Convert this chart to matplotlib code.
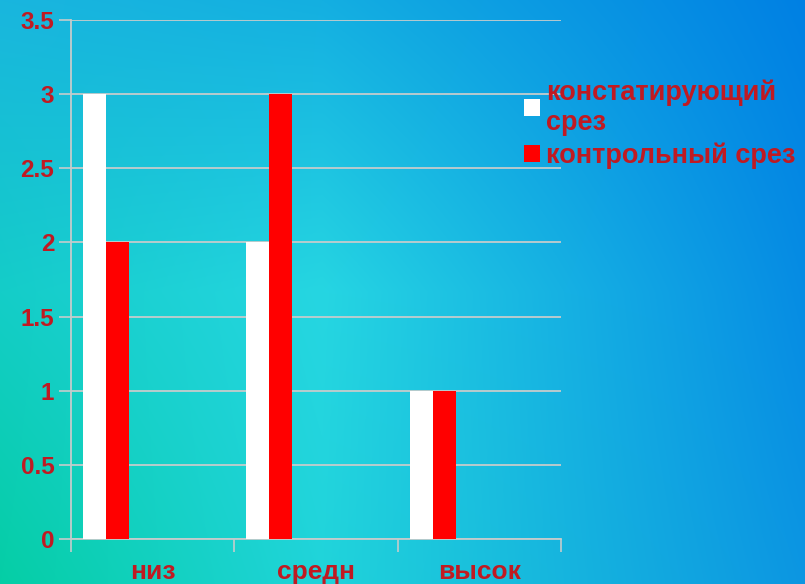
import numpy as np
import matplotlib.pyplot as plt

categories = ['низ', 'средн', 'высок']
series_names = ['констатирующий\nсрез', 'контрольный срез']
konst = [3, 2, 1]
kontr = [2, 3, 1]
yticks = [0, 0.5, 1, 1.5, 2, 2.5, 3, 3.5]

txt_red = '#c01a22'
grid_c = '#c4cccc'

plt.rcParams['font.family'] = ['Liberation Sans', 'DejaVu Sans']

fig = plt.figure(figsize=(8.05, 5.84), dpi=100)

# background gradient
W, H = 805, 584
xs = np.linspace(0, 1, W)
def row(stops):
    pos = [p for p, _ in stops]
    return np.stack([np.interp(xs, pos, [c[i] for _, c in stops]) for i in range(3)], axis=-1)
bottom = row([(0, (5, 206, 165)), (0.4, (32, 212, 218)), (1, (12, 150, 226))])
top = row([(0, (25, 182, 222)), (0.4, (20, 175, 225)), (1, (0, 128, 228))])
mid = row([(0, (20, 205, 200)), (0.4, (38, 214, 226)), (1, (6, 140, 228))])
t = np.linspace(0, 1, H)[:, None, None]   # 0 = top
img = np.where(t < 0.5, top[None] * (1 - 2 * t) + mid[None] * (2 * t),
               mid[None] * (2 - 2 * t) + bottom[None] * (2 * t - 1))
bg = fig.add_axes([0, 0, 1, 1])
bg.imshow(img / 255.0, aspect='auto', extent=[0, 1, 0, 1])
bg.axis('off')

ax = fig.add_axes([71 / W, 45 / H, 490 / W, 519 / H])
ax.patch.set_alpha(0)

x = np.arange(len(categories))
bw = 0.141
ax.bar(x + 0.074, konst, width=bw, align='edge', color='white', zorder=3, label=series_names[0])
ax.bar(x + 0.074 + bw, kontr, width=bw, align='edge', color='red', zorder=3, label=series_names[1])

ax.set_xlim(0, 3)
ax.set_ylim(0, 3.5)
ax.set_yticks(yticks)
ax.set_yticklabels(['0', '0.5', '1', '1.5', '2', '2.5', '3', '3.5'])
ax.set_xticks([0, 1, 2, 3])
ax.set_xticklabels([])
ax.set_xticks(x + 0.5, minor=True)
ax.set_xticklabels(categories, minor=True)
ax.tick_params(axis='x', which='minor', length=0, pad=15)
ax.tick_params(axis='x', which='major', length=9, color=grid_c, width=1.2)
ax.tick_params(axis='y', length=9, color=grid_c, width=1.2, pad=3)
for lab in ax.get_xticklabels(minor=True):
    lab.set_color(txt_red)
    lab.set_fontweight('bold')
    lab.set_fontsize(19)
for lab in ax.get_yticklabels():
    lab.set_color(txt_red)
    lab.set_fontweight('bold')
    lab.set_fontsize(17.5)

ax.yaxis.grid(True, color=grid_c, linewidth=1.3, zorder=1)
for s in ['top', 'right']:
    ax.spines[s].set_visible(False)
for s in ['left', 'bottom']:
    ax.spines[s].set_color(grid_c)
    ax.spines[s].set_linewidth(1.3)

leg = fig.legend(loc='upper left', bbox_to_anchor=(524 / W, 1 - 79 / H), frameon=False,
                 prop={'weight': 'bold', 'size': 19.5}, labelcolor=txt_red,
                 handlelength=0.6, handleheight=0.6, handletextpad=0.22,
                 labelspacing=0.25, borderaxespad=0, borderpad=0)

fig.savefig('out.png', dpi=100)
